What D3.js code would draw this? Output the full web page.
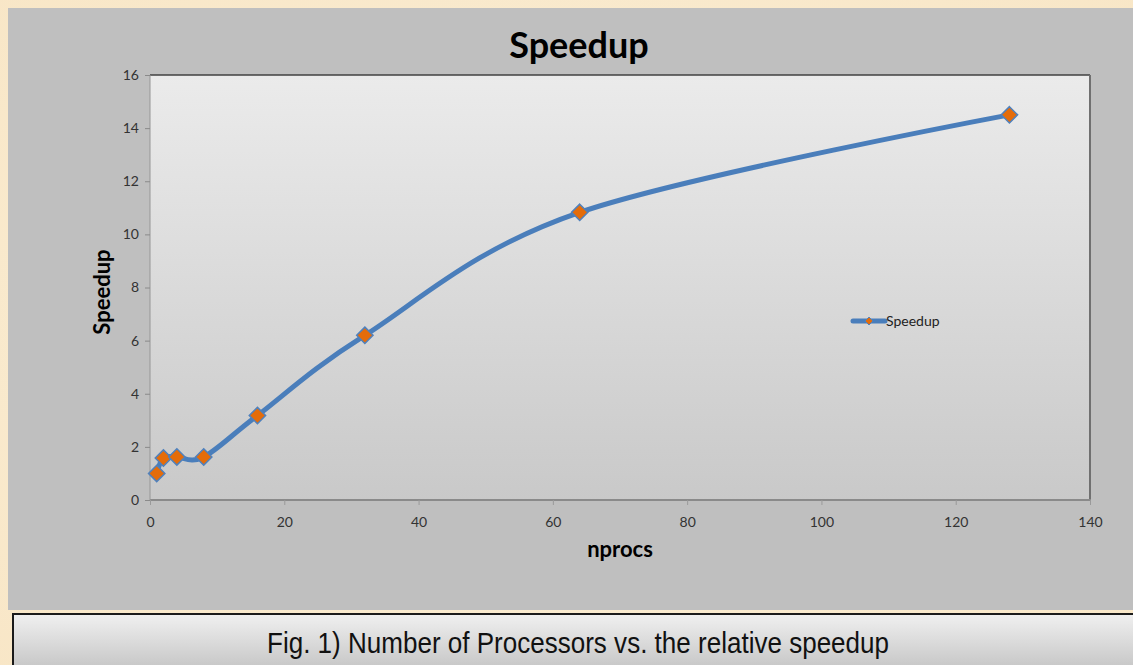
<!DOCTYPE html>
<html>
<head>
<meta charset="utf-8">
<script src="https://cdn.jsdelivr.net/npm/d3@7"></script>
<style>
  html, body { margin: 0; padding: 0; background: #fbeed5; }
  svg { display: block; }
</style>
</head>
<body>
<svg id="chart" width="1133" height="665"></svg>
<script>
// Measured speedup for each processor count
const nprocs = [1, 2, 4, 8, 16, 32, 64, 128];
const speedup = [1.0, 1.58, 1.62, 1.62, 3.18, 6.2, 10.83, 14.5];
const xTicks = [0, 20, 40, 60, 80, 100, 120, 140];
const yTicks = [0, 2, 4, 6, 8, 10, 12, 14, 16];
const seriesName = "Speedup";
const chartTitle = "Speedup";
const xTitle = "nprocs";
const yTitle = "Speedup";
const caption = "Fig. 1) Number of Processors vs. the relative speedup";

const svg = d3.select("#chart");
const W = 1133, H = 665;

const defs = svg.append("defs");

// parchment backdrop
const bg = defs.append("radialGradient").attr("id", "parch").attr("cx", "50%").attr("cy", "50%").attr("r", "75%");
bg.append("stop").attr("offset", "0%").attr("stop-color", "#fcf0d9");
bg.append("stop").attr("offset", "100%").attr("stop-color", "#f8e6c6");

const plotGrad = defs.append("linearGradient").attr("id", "plotGrad").attr("x1", 0).attr("y1", 0).attr("x2", 0).attr("y2", 1);
plotGrad.append("stop").attr("offset", "0%").attr("stop-color", "#ebebeb");
plotGrad.append("stop").attr("offset", "100%").attr("stop-color", "#c9c9c9");

const capGrad = defs.append("linearGradient").attr("id", "capGrad").attr("x1", 0).attr("y1", 0).attr("x2", 0).attr("y2", 1);
capGrad.append("stop").attr("offset", "0%").attr("stop-color", "#f0f0f0");
capGrad.append("stop").attr("offset", "100%").attr("stop-color", "#c2c2c2");

svg.append("rect").attr("width", W).attr("height", H).attr("fill", "url(#parch)");

// chart panel
svg.append("rect").attr("x", 8).attr("y", 8).attr("width", W - 8).attr("height", 602).attr("fill", "#bfbfbf");

// plot area
const plot = { left: 150, right: 1090, top: 75, bottom: 500 };
const x = d3.scaleLinear().domain([0, 140]).range([plot.left, plot.right]);
const y = d3.scaleLinear().domain([0, 16]).range([plot.bottom, plot.top]);

svg.append("rect")
  .attr("x", plot.left).attr("y", plot.top)
  .attr("width", plot.right - plot.left).attr("height", plot.bottom - plot.top)
  .attr("fill", "url(#plotGrad)");

// plot frame: dark top/right, lighter left/bottom
svg.append("line").attr("x1", plot.left).attr("x2", plot.right).attr("y1", plot.top).attr("y2", plot.top)
  .attr("stroke", "#404040").attr("stroke-width", 1.5);
svg.append("line").attr("x1", plot.right).attr("x2", plot.right).attr("y1", plot.top).attr("y2", plot.bottom)
  .attr("stroke", "#707070").attr("stroke-width", 2);
svg.append("line").attr("x1", plot.left).attr("x2", plot.right + 1).attr("y1", plot.bottom).attr("y2", plot.bottom)
  .attr("stroke", "#8a8a8a").attr("stroke-width", 2);
svg.append("line").attr("x1", plot.left).attr("x2", plot.left).attr("y1", plot.top).attr("y2", plot.bottom)
  .attr("stroke", "#969696").attr("stroke-width", 1);

const tickFont = "Lato, 'Open Sans', sans-serif";

// y axis
const yAxis = svg.append("g").attr("transform", `translate(${plot.left},0)`)
  .call(d3.axisLeft(y).tickValues(yTicks).tickSize(5).tickPadding(6).tickFormat(d3.format("d")));
yAxis.select(".domain").remove();
yAxis.selectAll(".tick line").attr("stroke", "#8a8a8a");
yAxis.selectAll(".tick text").attr("fill", "#333").style("font-family", tickFont).style("font-size", "14px");

// x axis
const xAxis = svg.append("g").attr("transform", `translate(0,${plot.bottom})`)
  .call(d3.axisBottom(x).tickValues(xTicks).tickSize(5).tickPadding(12).tickFormat(d3.format("d")));
xAxis.select(".domain").remove();
xAxis.selectAll(".tick line").attr("stroke", "#9a9a9a");
xAxis.selectAll(".tick text").attr("fill", "#333").style("font-family", tickFont).style("font-size", "14px");

// smoothed series line
const data = nprocs.map((n, i) => ({ n, s: speedup[i] }));
const line = d3.line().x(d => x(d.n)).y(d => y(d.s)).curve(d3.curveCardinal.tension(0));
svg.append("path").datum(data).attr("d", line)
  .attr("fill", "none").attr("stroke", "#4a7ebb").attr("stroke-width", 5).attr("stroke-linecap", "round");

const diamond = d3.symbol().type(d3.symbolDiamond2).size(170);
svg.selectAll(".pt").data(data).join("path").attr("class", "pt")
  .attr("d", diamond)
  .attr("transform", d => `translate(${x(d.n)},${y(d.s)})`)
  .attr("fill", "#e46c0a").attr("stroke", "#4f81bd").attr("stroke-width", 1.5);

// legend
const lg = svg.append("g").attr("transform", "translate(853,321)");
lg.append("line").attr("x1", 0).attr("x2", 32).attr("y1", 0).attr("y2", 0)
  .attr("stroke", "#4a7ebb").attr("stroke-width", 5).attr("stroke-linecap", "round");
lg.append("path").attr("d", d3.symbol().type(d3.symbolDiamond2).size(40))
  .attr("transform", "translate(16,0)").attr("fill", "#e46c0a").attr("stroke", "#4f81bd").attr("stroke-width", 1);
lg.append("text").attr("x", 33).attr("y", 5).text(seriesName)
  .attr("fill", "#222").style("font-family", tickFont).style("font-size", "14px");

// titles
svg.append("text").attr("x", 579).attr("y", 58).attr("text-anchor", "middle").text(chartTitle)
  .style("font-family", "Lato, 'Open Sans', sans-serif").style("font-weight", "bold").style("font-size", "36px").attr("fill", "#000");

svg.append("text").attr("x", 620).attr("y", 557).attr("text-anchor", "middle").text(xTitle)
  .style("font-family", "Lato, 'Open Sans', sans-serif").style("font-weight", "bold").style("font-size", "22px").attr("fill", "#000");

svg.append("text").attr("transform", "translate(110,292) rotate(-90)").attr("text-anchor", "middle").text(yTitle)
  .style("font-family", "Lato, 'Open Sans', sans-serif").style("font-weight", "bold").style("font-size", "22px").attr("fill", "#000");

// caption box
svg.append("rect").attr("x", 13).attr("y", 614).attr("width", W - 12).attr("height", 60)
  .attr("fill", "url(#capGrad)").attr("stroke", "#1a1a1a").attr("stroke-width", 2);
svg.append("text").attr("x", 578).attr("y", 653).attr("text-anchor", "middle").text(caption)
  .attr("textLength", 622).attr("lengthAdjust", "spacingAndGlyphs")
  .style("font-family", "'Liberation Sans Narrow', 'Liberation Sans', Arial, sans-serif").style("font-size", "30px").attr("fill", "#111");
</script>
</body>
</html>
